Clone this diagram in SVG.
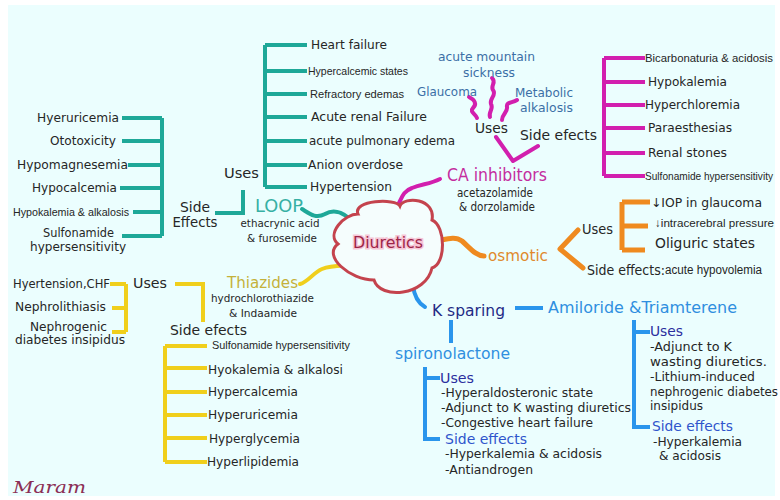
<svg xmlns="http://www.w3.org/2000/svg" width="780" height="500" viewBox="0 0 780 500">
<style>
text{font-family:"DejaVu Sans","Liberation Sans",sans-serif;dominant-baseline:central;fill:#262626}
.n{font-family:"Liberation Sans","DejaVu Sans",sans-serif}
.e{text-anchor:end}
.m{text-anchor:middle}
.teal{fill:none;stroke:#1ea898;stroke-width:4}
.mag{fill:none;stroke:#d21fae;stroke-width:4}
.org{fill:none;stroke:#ef8a1f;stroke-width:5}
.yel{fill:none;stroke:#f0cf1c;stroke-width:4}
.blu{fill:none;stroke:#2a95ec;stroke-width:4}
.thick{stroke-linecap:round;stroke-linejoin:round}
.ca{fill:#3b6fa6}
.navy{fill:#2b2f9e}
.sky{fill:#2f8fe0}
</style>
<rect x="0" y="0" width="780" height="500" fill="#ffffff"/>
<rect x="8" y="5" width="767" height="491" fill="#ebfefe"/>

<g id="connectors">
  <!-- LOOP -->
  <path class="teal" d="M265,45V187M265,45H307M265,71H307M265,94H307M265,117H307M265,141H307M265,165H307M265,187H307"/>
  <path class="teal" d="M162,118V236M122,118H162M122,141H162M128,165H162M120,188H162M133,212H162M122,236H162"/>
  <path class="teal" stroke-width="6" d="M215,213H243V190"/>
  <path class="teal thick" stroke-width="9" d="M302,209C310,214 316,219 325,214C335,208 346,213 356,226"/>
  <!-- CA -->
  <path class="mag thick" stroke-width="9" d="M396,208C402,200 401,192 412,188C422,184 430,184 440,179"/>
  <path class="mag thick" stroke-width="5" d="M469,97C475,100 477,104 473,108C469,112 476,114 477,118"/>
  <path class="mag thick" stroke-width="5" d="M492,78C497,82 490,86 493,90C497,95 489,99 491,104C494,109 488,112 490,117"/>
  <path class="mag thick" stroke-width="5" d="M517,100C512,103 506,102 507,107C508,112 502,114 502,120"/>
  <path class="mag thick" stroke-width="8" d="M496,137L513,161L538,146"/>
  <path class="mag" d="M604,58V176M604,58H645M604,82H645M604,105H645M604,128H645M604,153H645M604,176H645"/>
  <!-- osmotic -->
  <path class="org thick" stroke-width="8" d="M432,242C445,240 454,235 462,241C470,248 476,256 484,256"/>
  <path class="org thick" stroke-width="6" d="M578,230L560,249L583,268"/>
  <path class="org" d="M622,202V250M622,202H650M622,226H648M622,250H645"/>
  <!-- thiazides -->
  <path class="yel thick" stroke-width="9" d="M300,284C308,282 314,272 322,269C332,265 342,266 352,265"/>
  <path class="yel" stroke-width="6" d="M175,284H203V322"/>
  <path class="yel" stroke-width="5" d="M126,284V332M110,284H126M112,308H126M112,332H126"/>
  <path class="yel" d="M165,346V462M165,346H207M165,368H207M165,392H207M165,415H207M165,438H207M165,462H207"/>
  <!-- K sparing -->
  <path class="blu thick" stroke-width="8" d="M398,270C404,276 412,276 413,285C414,295 418,303 425,307"/>
  <path class="blu" stroke-width="5" d="M515,308H543M451,320V343"/>
  <path class="blu" d="M425,367V439H440M425,378H440"/>
  <path class="blu" d="M634,320V427H650M634,332H650"/>
</g>

<g id="diuretics">
  <path d="M358,214C352,200 396,198 400,206C404,196 436,198 432,220C446,226 446,264 432,268C426,296 380,300 374,280C350,280 322,256 338,244C326,234 344,214 358,214Z" fill="#f5fdfd" stroke="#c4434d" stroke-width="3"/>
  <text x="388" y="243" class="m" font-size="15" textLength="70" lengthAdjust="spacingAndGlyphs" style="fill:#9e2448;stroke:#f6c6d6;stroke-width:3;paint-order:stroke">Diuretics</text>
</g>

<g id="loop">
  <text x="255" y="206" font-size="17" textLength="48" lengthAdjust="spacingAndGlyphs" style="fill:#37b0a4">LOOP</text>
  <text x="280" y="223" class="m" font-size="11" textLength="79" lengthAdjust="spacingAndGlyphs">ethacrynic acid</text>
  <text x="282" y="238" class="m" font-size="11" textLength="70" lengthAdjust="spacingAndGlyphs">&amp; furosemide</text>
</g>
<g id="loop-uses">
  <text x="224" y="173" font-size="14" textLength="35" lengthAdjust="spacingAndGlyphs">Uses</text>
  <text x="311" y="45" font-size="12" textLength="76" lengthAdjust="spacingAndGlyphs">Heart failure</text>
  <text x="308" y="71" class="n" font-size="11" textLength="100" lengthAdjust="spacingAndGlyphs">Hypercalcemic states</text>
  <text x="310" y="94" class="n" font-size="11.5" textLength="94" lengthAdjust="spacingAndGlyphs">Refractory edemas</text>
  <text x="311" y="117" font-size="12" textLength="116" lengthAdjust="spacingAndGlyphs">Acute renal Failure</text>
  <text x="309" y="141" font-size="12" textLength="146" lengthAdjust="spacingAndGlyphs">acute pulmonary edema</text>
  <text x="308" y="165" font-size="12" textLength="95" lengthAdjust="spacingAndGlyphs">Anion overdose</text>
  <text x="310" y="187" font-size="12" textLength="82" lengthAdjust="spacingAndGlyphs">Hypertension</text>
</g>
<g id="loop-side">
  <text x="195" y="207" class="m" font-size="14" textLength="30" lengthAdjust="spacingAndGlyphs">Side</text>
  <text x="195" y="222" class="m" font-size="14" textLength="45" lengthAdjust="spacingAndGlyphs">Effects</text>
  <text x="119" y="118" class="e" font-size="12" textLength="82" lengthAdjust="spacingAndGlyphs">Hyeruricemia</text>
  <text x="116" y="141" class="e" font-size="12" textLength="66" lengthAdjust="spacingAndGlyphs">Ototoxicity</text>
  <text x="128" y="165" class="e" font-size="12" textLength="111" lengthAdjust="spacingAndGlyphs">Hypomagnesemia</text>
  <text x="117" y="188" class="e" font-size="12" textLength="85" lengthAdjust="spacingAndGlyphs">Hypocalcemia</text>
  <text x="129" y="212" class="e n" font-size="11" textLength="116" lengthAdjust="spacingAndGlyphs">Hypokalemia &amp; alkalosis</text>
  <text x="114" y="233" class="e" font-size="12" textLength="71" lengthAdjust="spacingAndGlyphs">Sulfonamide</text>
  <text x="78" y="247" class="m" font-size="12" textLength="96" lengthAdjust="spacingAndGlyphs">hypersensitivity</text>
</g>

<g id="ca">
  <text x="447" y="175" font-size="17" textLength="100" lengthAdjust="spacingAndGlyphs" style="fill:#c42d9e">CA inhibitors</text>
  <text x="457" y="193" font-size="11.5" textLength="76" lengthAdjust="spacingAndGlyphs">acetazolamide</text>
  <text x="459" y="207" font-size="11.5" textLength="76" lengthAdjust="spacingAndGlyphs">&amp; dorzolamide</text>
</g>
<g id="ca-uses">
  <text x="475" y="128" font-size="14" textLength="33" lengthAdjust="spacingAndGlyphs">Uses</text>
  <text x="438" y="56" class="ca" font-size="12.5" textLength="97" lengthAdjust="spacingAndGlyphs">acute mountain</text>
  <text x="463" y="72" class="ca" font-size="12.5" textLength="52" lengthAdjust="spacingAndGlyphs">sickness</text>
  <text x="417" y="91" class="ca" font-size="12.5" textLength="60" lengthAdjust="spacingAndGlyphs">Glaucoma</text>
  <text x="515" y="92" class="ca" font-size="12.5" textLength="58" lengthAdjust="spacingAndGlyphs">Metabolic</text>
  <text x="520" y="107" class="ca" font-size="12.5" textLength="53" lengthAdjust="spacingAndGlyphs">alkalosis</text>
</g>
<g id="ca-side">
  <text x="520" y="135" font-size="14" textLength="77" lengthAdjust="spacingAndGlyphs">Side efects</text>
  <text x="645" y="58" class="n" font-size="11.3" textLength="128" lengthAdjust="spacingAndGlyphs">Bicarbonaturia &amp; acidosis</text>
  <text x="648" y="82" font-size="12" textLength="79" lengthAdjust="spacingAndGlyphs">Hypokalemia</text>
  <text x="645" y="105" font-size="12" textLength="95" lengthAdjust="spacingAndGlyphs">Hyperchloremia</text>
  <text x="648" y="128" font-size="12" textLength="84" lengthAdjust="spacingAndGlyphs">Paraesthesias</text>
  <text x="648" y="153" font-size="12" textLength="79" lengthAdjust="spacingAndGlyphs">Renal stones</text>
  <text x="645" y="176" class="n" font-size="10.4" textLength="128" lengthAdjust="spacingAndGlyphs">Sulfonamide hypersensitivity</text>
</g>

<g id="osmotic">
  <text x="488" y="256" font-size="15" textLength="60" lengthAdjust="spacingAndGlyphs" style="fill:#e0892c">osmotic</text>
</g>
<g id="osmotic-uses">
  <text x="582" y="229" font-size="14" textLength="31" lengthAdjust="spacingAndGlyphs">Uses</text>
  <text x="651" y="202" font-size="12.5" textLength="111" lengthAdjust="spacingAndGlyphs">↓IOP in glaucoma</text>
  <text x="655" y="223" class="n" font-size="11.5" textLength="119" lengthAdjust="spacingAndGlyphs">↓intracerebral pressure</text>
  <text x="655" y="243" font-size="14" textLength="100" lengthAdjust="spacingAndGlyphs">Oliguric states</text>
</g>
<g id="osmotic-side">
  <text x="587" y="270" font-size="14" textLength="78" lengthAdjust="spacingAndGlyphs">Side effects:</text>
  <text x="665" y="270" class="n" font-size="12.5" textLength="97" lengthAdjust="spacingAndGlyphs">acute hypovolemia</text>
</g>

<g id="thiazides">
  <text x="227" y="282" font-size="16" textLength="71" lengthAdjust="spacingAndGlyphs" style="fill:#c4b13a">Thiazides</text>
  <text x="211" y="298" font-size="11" textLength="103" lengthAdjust="spacingAndGlyphs">hydrochlorothiazide</text>
  <text x="229" y="313" font-size="11" textLength="68" lengthAdjust="spacingAndGlyphs">&amp; Indaamide</text>
</g>
<g id="thiazides-uses">
  <text x="133" y="283" font-size="14" textLength="34" lengthAdjust="spacingAndGlyphs">Uses</text>
  <text x="110" y="284" class="e" font-size="12" textLength="97" lengthAdjust="spacingAndGlyphs">Hyertension,CHF</text>
  <text x="106" y="307" class="e" font-size="12" textLength="91" lengthAdjust="spacingAndGlyphs">Nephrolithiasis</text>
  <text x="107" y="327" class="e" font-size="12" textLength="77" lengthAdjust="spacingAndGlyphs">Nephrogenic</text>
  <text x="125" y="340" class="e" font-size="12" textLength="110" lengthAdjust="spacingAndGlyphs">diabetes insipidus</text>
</g>
<g id="thiazides-side">
  <text x="170" y="330" font-size="14" textLength="77" lengthAdjust="spacingAndGlyphs">Side efects</text>
  <text x="212" y="345" class="n" font-size="11" textLength="138" lengthAdjust="spacingAndGlyphs">Sulfonamide hypersensitivity</text>
  <text x="208" y="369" font-size="12.5" textLength="135" lengthAdjust="spacingAndGlyphs">Hyokalemia &amp; alkalosi</text>
  <text x="208" y="391" font-size="12.5" textLength="90" lengthAdjust="spacingAndGlyphs">Hypercalcemia</text>
  <text x="208" y="414" font-size="12.5" textLength="90" lengthAdjust="spacingAndGlyphs">Hyperuricemia</text>
  <text x="209" y="438" font-size="12.5" textLength="91" lengthAdjust="spacingAndGlyphs">Hyperglycemia</text>
  <text x="207" y="461" font-size="12.5" textLength="92" lengthAdjust="spacingAndGlyphs">Hyperlipidemia</text>
</g>

<g id="k-sparing">
  <text x="432" y="310" font-size="16" textLength="73" lengthAdjust="spacingAndGlyphs" style="fill:#1f2a85">K sparing</text>
</g>
<g id="spironolactone">
  <text x="395" y="353" class="sky" font-size="16" textLength="115" lengthAdjust="spacingAndGlyphs">spironolactone</text>
  <text x="440" y="378" class="navy" font-size="14" textLength="34" lengthAdjust="spacingAndGlyphs">Uses</text>
  <text x="441" y="393" font-size="12" textLength="152" lengthAdjust="spacingAndGlyphs">-Hyperaldosteronic state</text>
  <text x="441" y="408" font-size="12" textLength="190" lengthAdjust="spacingAndGlyphs">-Adjunct to K wasting diuretics</text>
  <text x="441" y="423" font-size="12" textLength="152" lengthAdjust="spacingAndGlyphs">-Congestive heart failure</text>
  <text x="445" y="439" font-size="14" textLength="82" lengthAdjust="spacingAndGlyphs" style="fill:#2f55cc">Side effects</text>
  <text x="445" y="454" font-size="12" textLength="157" lengthAdjust="spacingAndGlyphs">-Hyperkalemia &amp; acidosis</text>
  <text x="445" y="470" font-size="12" textLength="88" lengthAdjust="spacingAndGlyphs">-Antiandrogen</text>
</g>
<g id="amiloride">
  <text x="548" y="307" class="sky" font-size="16" textLength="189" lengthAdjust="spacingAndGlyphs">Amiloride &amp;Triamterene</text>
  <text x="650" y="331" class="navy" font-size="14" textLength="33" lengthAdjust="spacingAndGlyphs">Uses</text>
  <text x="650" y="347" font-size="12" textLength="82" lengthAdjust="spacingAndGlyphs">-Adjunct to K</text>
  <text x="650" y="362" font-size="12" textLength="117" lengthAdjust="spacingAndGlyphs">wasting diuretics.</text>
  <text x="650" y="377" font-size="12" textLength="105" lengthAdjust="spacingAndGlyphs">-Lithium-induced</text>
  <text x="650" y="392" font-size="12" textLength="128" lengthAdjust="spacingAndGlyphs">nephrogenic diabetes</text>
  <text x="650" y="406" font-size="12" textLength="53" lengthAdjust="spacingAndGlyphs">insipidus</text>
  <text x="652" y="426" font-size="14" textLength="81" lengthAdjust="spacingAndGlyphs" style="fill:#2f55cc">Side effects</text>
  <text x="653" y="442" font-size="12" textLength="89" lengthAdjust="spacingAndGlyphs">-Hyperkalemia</text>
  <text x="659" y="456" font-size="12" textLength="62" lengthAdjust="spacingAndGlyphs">&amp; acidosis</text>
</g>

<text x="13" y="487" font-size="16" textLength="73" lengthAdjust="spacingAndGlyphs" style="font-family:'DejaVu Serif','Liberation Serif',serif;font-style:italic;fill:#8b2f55">Maram</text>
</svg>
